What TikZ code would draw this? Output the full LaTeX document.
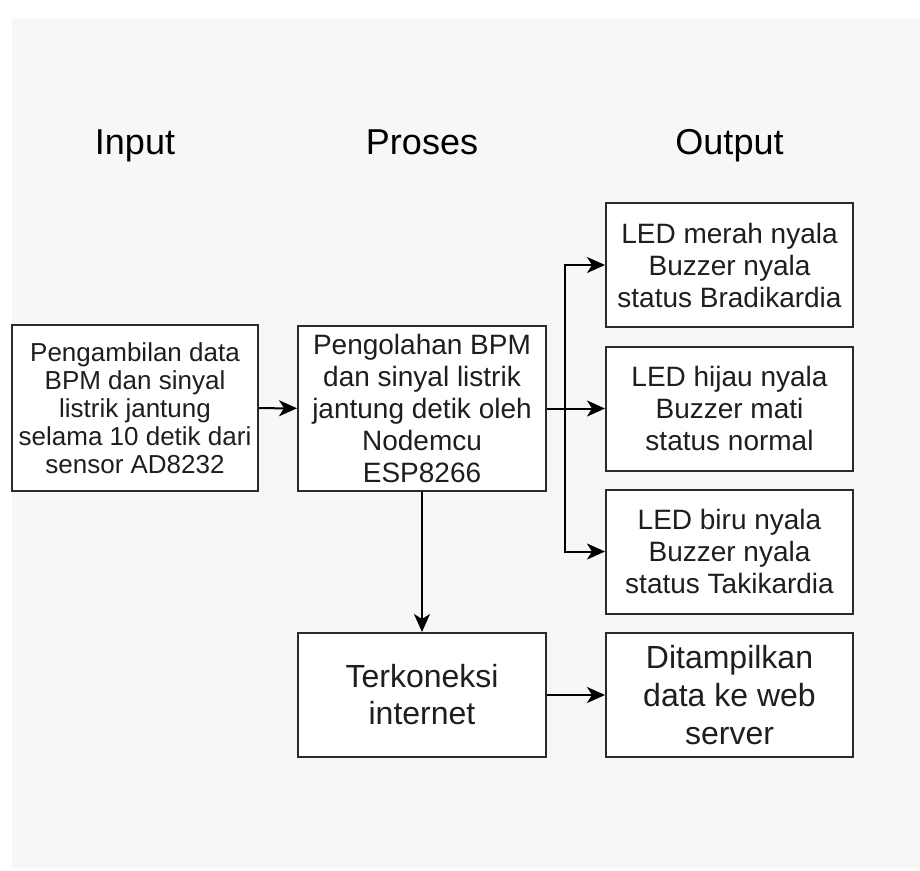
\documentclass[tikz,border=0pt]{standalone}
\usepackage{fontspec}
\setmainfont{Liberation Sans}
\usetikzlibrary{arrows.meta,positioning}
\definecolor{bggrey}{HTML}{F7F7F7}
\definecolor{boxline}{HTML}{2B2B2B}
\definecolor{boxtext}{HTML}{1E1E1E}

\begin{document}
\begin{tikzpicture}
    [
        x = 1pt, y = -1pt,
        heading/.style = {font=\fontsize{36}{40}\selectfont, anchor=base, inner sep=0pt},
        box/.style = {draw=boxline, line width=2pt, fill=white, text=boxtext, align=center, inner sep=0pt},
        outbox/.style = {box, minimum width=247pt, minimum height=124pt, font=\fontsize{28}{32}\selectfont},
        arr/.style = {line width=2pt, -{Stealth[length=18pt, width=16pt, inset=5pt]}},
    ]
    \useasboundingbox[fill=white] (0,0) rectangle (920,870);
    \fill[bggrey] (12,18) rectangle (920,868);

    \node[heading] (input) at (135,154) {Input};
    \node[heading] (proses) at (422,154) {Proses};
    \node[heading] (output) at (729.5,154) {Output};

    \node[box, minimum width=246pt, minimum height=166pt, font=\fontsize{26}{28}\selectfont]
        (ambil) at (135,408) {Pengambilan data\\BPM dan sinyal\\listrik jantung\\selama 10 detik dari\\sensor AD8232};
    \node[box, minimum width=248pt, minimum height=165pt, font=\fontsize{28}{32}\selectfont]
        (olah) at (422,408.5) {Pengolahan BPM\\dan sinyal listrik\\jantung detik oleh\\Nodemcu\\ESP8266};

    \node[outbox] (merah) at (729.5,265) {LED merah nyala\\Buzzer nyala\\status Bradikardia};
    \node[outbox] (hijau) at (729.5,408.5) {LED hijau nyala\\Buzzer mati\\status normal};
    \node[outbox] (biru) at (729.5,551.5) {LED biru nyala\\Buzzer nyala\\status Takikardia};

    \node[box, minimum width=248pt, minimum height=124pt, font=\fontsize{32}{37}\selectfont]
        (koneksi) at (422,695) {Terkoneksi\\internet};
    \node[box, minimum width=247pt, minimum height=124pt, font=\fontsize{32}{38}\selectfont]
        (tampil) at (729.5,695) {Ditampilkan\\data ke web\\server};

    \coordinate (cabang) at (565,408.5);
    \draw[arr] (ambil) -- (olah);
    \draw[arr] (olah) -- (hijau);
    \draw[arr] (cabang) |- (merah);
    \draw[arr] (cabang) |- (biru);
    \draw[arr] (olah) -- (koneksi);
    \draw[arr] (koneksi) -- (tampil);
\end{tikzpicture}
\end{document}
